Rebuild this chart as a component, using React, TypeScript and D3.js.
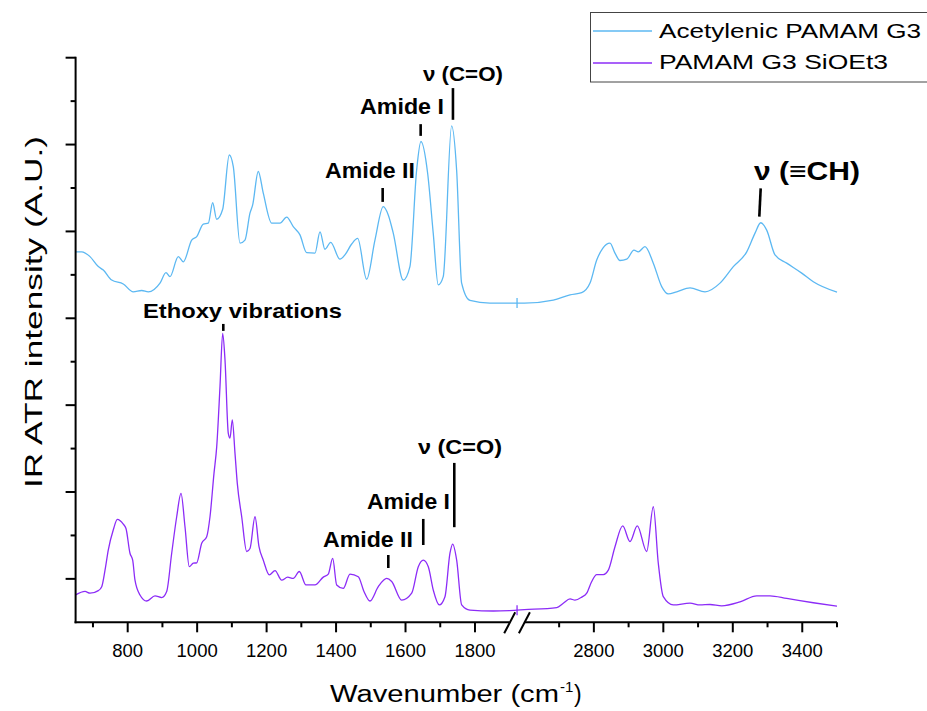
import React from "react";
import * as d3 from "d3";

// Spectrum of the acetylenic dendrimer: [wavenumber (cm-1), intensity (A.U.)]
const acetylenicG3: [number, number][] = [
  [650, 8.53], [667.6, 8.53], [691.5, 8.42], [715.4, 8.19], [729.8, 8.11], [753.9, 7.88],
  [787.3, 7.79], [816.1, 7.61], [840.3, 7.64], [859.3, 7.61], [893, 7.81], [910.3, 8.05],
  [921.8, 7.96], [945.7, 8.42], [960.1, 8.3], [984.3, 8.8], [998.7, 8.88], [1017.7, 9.17],
  [1032.1, 9.19], [1044.7, 9.66], [1056.2, 9.28], [1073.5, 9.51], [1092.5, 10.76],
  [1104.1, 10.49], [1123.4, 8.73], [1137.7, 8.8], [1152.1, 9.42], [1159.9, 9.61],
  [1176, 10.38], [1190.4, 9.88], [1214.6, 9.19], [1238.5, 9.19], [1257.8, 9.33],
  [1276.8, 9.11], [1296.1, 8.92], [1315.4, 8.51], [1339.3, 8.5], [1353.7, 8.99],
  [1368.1, 8.59], [1384.5, 8.75], [1411.2, 8.36], [1425.6, 8.46], [1444.9, 8.71],
  [1462.2, 8.84], [1488.1, 7.9], [1512, 8.8], [1535.9, 9.57], [1550.3, 9.38],
  [1564.7, 8.96], [1593.5, 7.88], [1612.7, 8.19], [1632, 10.41], [1644.4, 11.07],
  [1663.7, 10.34], [1679.8, 8.96], [1694.2, 7.77], [1708.6, 7.96], [1732.8, 11.43],
  [1747.2, 10.41], [1761.6, 7.81], [1785.5, 7.41], [1843.1, 7.35], [1900, 7.35],
  [2600, 7.35], [2683.2, 7.42], [2731.3, 7.54], [2765, 7.59], [2788.9, 7.81],
  [2808.2, 8.34], [2825.5, 8.61], [2846.4, 8.73], [2860.8, 8.5], [2875.2, 8.33],
  [2894.5, 8.36], [2915.5, 8.57], [2927.9, 8.53], [2947.2, 8.65], [2971.1, 8.27],
  [2995.3, 7.73], [3014.3, 7.56], [3038.5, 7.61], [3076.8, 7.7], [3120, 7.61],
  [3163.2, 7.81], [3201.5, 8.19], [3240.1, 8.53], [3264, 8.96], [3280.3, 9.2],
  [3297.6, 9.03], [3321.5, 8.46], [3355.2, 8.27], [3398.4, 8.04], [3431.8, 7.84],
  [3500, 7.6],
];

// Spectrum of the triethoxysilyl dendrimer: [wavenumber (cm-1), intensity (A.U.)]
const siOEt3G3: [number, number][] = [
  [650, 0.63], [677.1, 0.71], [691.5, 0.67], [715.4, 0.73], [725.2, 0.82], [734.7, 1.2],
  [744.2, 1.67], [758.6, 2.13], [770.1, 2.37], [787.3, 2.26], [795.1, 2.16], [806.6, 1.59],
  [814.4, 1.43], [821, 0.97], [835.4, 0.63], [854.7, 0.49], [878.6, 0.61], [897.9, 0.57],
  [912.3, 0.71], [926.7, 1.59], [941.1, 2.43], [953.5, 2.97], [965, 2.2], [977.4, 1.28],
  [988.9, 1.36], [998.7, 1.37], [1013.1, 1.82], [1027.5, 1.97], [1037, 2.43],
  [1048.5, 3.43], [1056.3, 4.04], [1065.8, 5.43], [1073.5, 6.65], [1080.2, 6.04],
  [1089.7, 4.35], [1094.6, 4.24], [1101.2, 4.66], [1109, 3.89], [1115.6, 3.2],
  [1128.3, 2.43], [1142.7, 1.63], [1152.2, 1.7], [1166.6, 2.43], [1178.1, 1.74],
  [1190.5, 1.43], [1207.8, 1.09], [1224.2, 1.19], [1243.4, 0.97], [1260.7, 1.04],
  [1276.8, 1.01], [1294.1, 1.17], [1313.4, 0.86], [1339.3, 0.86], [1363.2, 1.04],
  [1377.6, 1.11], [1390.3, 1.47], [1401.8, 0.86], [1420.8, 0.78], [1440.1, 1.11],
  [1464, 1.05], [1480.4, 0.71], [1497.7, 0.49], [1521.6, 0.82], [1545.8, 1.01],
  [1560.2, 0.94], [1589, 0.51], [1617.8, 0.67], [1636.8, 1.28], [1651.2, 1.43],
  [1665.6, 1.28], [1680, 0.74], [1697.2, 0.4], [1713.6, 0.59], [1728, 1.59],
  [1735.8, 1.8], [1747.3, 1.43], [1761.7, 0.4], [1785.6, 0.28], [1852.7, 0.26],
  [1900, 0.27], [2600, 0.29], [2693, 0.34], [2712, 0.44], [2731.3, 0.54], [2745.7, 0.51],
  [2765, 0.58], [2779.4, 0.67], [2793.8, 0.94], [2808.2, 1.1], [2827.2, 1.1],
  [2841.6, 1.2], [2860.8, 1.74], [2883, 2.22], [2904, 1.86], [2925, 2.22], [2952.1, 1.63],
  [2971.1, 2.66], [2985.5, 1.36], [2999.9, 0.59], [3028.7, 0.4], [3076.8, 0.44],
  [3105.6, 0.4], [3134.4, 0.41], [3168.1, 0.38], [3220.8, 0.47], [3268.9, 0.61],
  [3307.2, 0.61], [3355.2, 0.55], [3431.8, 0.45], [3500, 0.37],
];

const seriesNames = ["Acetylenic PAMAM G3", "PAMAM G3 SiOEt3"];
const seriesColors = ["#5cb8f2", "#8c2cf7"];

// Broken wavenumber axis: two segments
const lowRange: [number, number] = [650, 1900];
const highRange: [number, number] = [2600, 3500];
const lowTicks = [700, 800, 900, 1000, 1100, 1200, 1300, 1400, 1500, 1600, 1700, 1800];
const highTicks = [2700, 2800, 2900, 3000, 3100, 3200, 3300, 3400, 3500];
const yTicks = d3.range(1, 14);

// Band assignments: marker position (wavenumber, intensity range) and label placement
type Band = {
  text: string; w: number; w1?: number; y0: number; y1: number;
  dx: number; dy: number; size: number; len: number;
};
const bands: Band[] = [
  { text: "ν (C=O)", w: 1736.6, y0: 11.57, y1: 12.3, dx: -30, dy: -7, size: 21, len: 80 },
  { text: "Amide I", w: 1643.6, y0: 11.2, y1: 11.47, dx: -60.7, dy: -10, size: 22, len: 84 },
  { text: "Amide II", w: 1534.2, y0: 9.68, y1: 10.0, dx: -57.7, dy: -10, size: 22, len: 90 },
  { text: "ν (≡CH)", w: 3276.3, w1: 3280.3, y0: 9.34, y1: 9.99, dx: -6.7, dy: -8, size: 26, len: 106 },
  { text: "Ethoxy vibrations", w: 1075.3, y0: 6.71, y1: 6.87, dx: -80.3, dy: -6, size: 21, len: 199 },
  { text: "ν (C=O)", w: 1740.4, y0: 2.19, y1: 3.67, dx: -36.3, dy: -9, size: 21, len: 84 },
  { text: "Amide I", w: 1651.1, y0: 1.78, y1: 2.38, dx: -56.3, dy: -10, size: 22, len: 83 },
  { text: "Amide II", w: 1550.4, y0: 1.25, y1: 1.55, dx: -65.3, dy: -8, size: 22, len: 90 },
];

const W = 927;
const H = 711;
const left = 75.6;
const right = 837;
const top = 57.7;
const bottom = 622.3;
const font = "'Liberation Sans', Arial, sans-serif";

export default function App() {
  const xLow = d3.scaleLinear().domain(lowRange).range([left, 509.7]);
  const xHigh = d3.scaleLinear().domain(highRange).range([524.4, right]);
  const x = (w: number) => (w <= lowRange[1] ? xLow(w) : xHigh(w));
  const y = d3.scaleLinear().domain([0, 13]).range([bottom, top]);
  const gapX = (xLow(lowRange[1]) + xHigh(highRange[0])) / 2;

  const line = d3
    .line<[number, number]>()
    .x((d) => x(d[0]))
    .y((d) => y(d[1]))
    .curve(d3.curveMonotoneX);

  const series = [acetylenicG3, siOEt3G3];

  // curve value where it crosses the axis break, used for the small break marker
  const valueAtGap = (s: [number, number][]) => {
    const a = s.find((d) => d[0] === lowRange[1])!;
    const b = s.find((d) => d[0] === highRange[0])!;
    return (a[1] + b[1]) / 2;
  };

  return (
    <svg width={W} height={H} style={{ display: "block", position: "absolute", left: 0, top: 0 }} fontFamily={font}>
      <rect width={W} height={H} fill="#ffffff" />

      {/* spectra */}
      {series.map((s, i) => (
        <g key={seriesNames[i]}>
          <path d={line(s) ?? ""} fill="none" stroke={seriesColors[i]} strokeWidth={1.3} />
          <line
            x1={gapX}
            x2={gapX}
            y1={y(valueAtGap(s)) - 5}
            y2={y(valueAtGap(s)) + 5}
            stroke={seriesColors[i]}
            strokeWidth={1.3}
          />
        </g>
      ))}

      {/* y axis */}
      <line x1={left} x2={left} y1={top - 1} y2={bottom + 1} stroke="#000" strokeWidth={2} />
      {yTicks.map((t) => (
        <line
          key={t}
          x1={left}
          x2={left - (t % 2 === 1 ? 10 : 5)}
          y1={y(t)}
          y2={y(t)}
          stroke="#000"
          strokeWidth={2}
        />
      ))}

      {/* broken x axis */}
      <line x1={left - 1} x2={xLow(lowRange[1])} y1={bottom} y2={bottom} stroke="#000" strokeWidth={2} />
      <line x1={xHigh(highRange[0])} x2={right} y1={bottom} y2={bottom} stroke="#000" strokeWidth={2} />
      {[xLow(lowRange[1]), xHigh(highRange[0])].map((bx, i) => (
        <line key={i} x1={bx - 5.5} x2={bx + 5.5} y1={bottom + 11} y2={bottom - 10} stroke="#000" strokeWidth={2} />
      ))}
      {lowTicks.map((t) => (
        <line key={t} x1={xLow(t)} x2={xLow(t)} y1={bottom} y2={bottom + (t % 200 === 0 ? 10 : 5)} stroke="#000" strokeWidth={2} />
      ))}
      {highTicks.map((t) => (
        <line key={t} x1={xHigh(t)} x2={xHigh(t)} y1={bottom} y2={bottom + (t % 200 === 0 ? 10 : 5)} stroke="#000" strokeWidth={2} />
      ))}
      {lowTicks
        .filter((t) => t % 200 === 0)
        .map((t) => (
          <text key={t} x={xLow(t)} y={bottom + 35} fontSize={18.5} textAnchor="middle" fill="#000">
            {t}
          </text>
        ))}
      {highTicks
        .filter((t) => t % 200 === 0)
        .map((t) => (
          <text key={t} x={xHigh(t)} y={bottom + 35} fontSize={18.5} textAnchor="middle" fill="#000">
            {t}
          </text>
        ))}

      {/* axis titles */}
      <text x={330} y={702} fontSize={23} fill="#000" textLength={229} lengthAdjust="spacingAndGlyphs">
        Wavenumber (cm
      </text>
      <text x={560} y={692} fontSize={15} fill="#000">-1</text>
      <text x={574} y={702} fontSize={23} fill="#000">)</text>
      <text
        transform={`translate(42, 488) rotate(-90)`}
        fontSize={24}
        fill="#000"
        textLength={352}
        lengthAdjust="spacingAndGlyphs"
      >
        IR ATR intensity (A.U.)
      </text>

      {/* band assignments */}
      {bands.map((b, i) => {
        const x0 = x(b.w);
        const x1 = x(b.w1 ?? b.w);
        return (
          <g key={i}>
            <line x1={x0} x2={x1} y1={y(b.y0)} y2={y(b.y1)} stroke="#000" strokeWidth={2.6} />
            <text
              x={x1 + b.dx}
              y={y(b.y1) + b.dy}
              fontSize={b.size}
              fontWeight="bold"
              fill="#000"
              textLength={b.len}
              lengthAdjust="spacingAndGlyphs"
            >
              {b.text}
            </text>
          </g>
        );
      })}

      {/* legend */}
      <rect x={590.5} y={12.5} width={345} height={69.5} fill="#fff" stroke="#444" strokeWidth={1} />
      {seriesNames.map((n, i) => (
        <g key={n}>
          <line x1={593} x2={652} y1={31 + i * 32} y2={31 + i * 32} stroke={seriesColors[i]} strokeWidth={1.3} />
          <text
            x={659}
            y={38 + i * 31}
            fontSize={20}
            fill="#000"
            textLength={i === 0 ? 262 : 229}
            lengthAdjust="spacingAndGlyphs"
          >
            {n}
          </text>
        </g>
      ))}
    </svg>
  );
}
